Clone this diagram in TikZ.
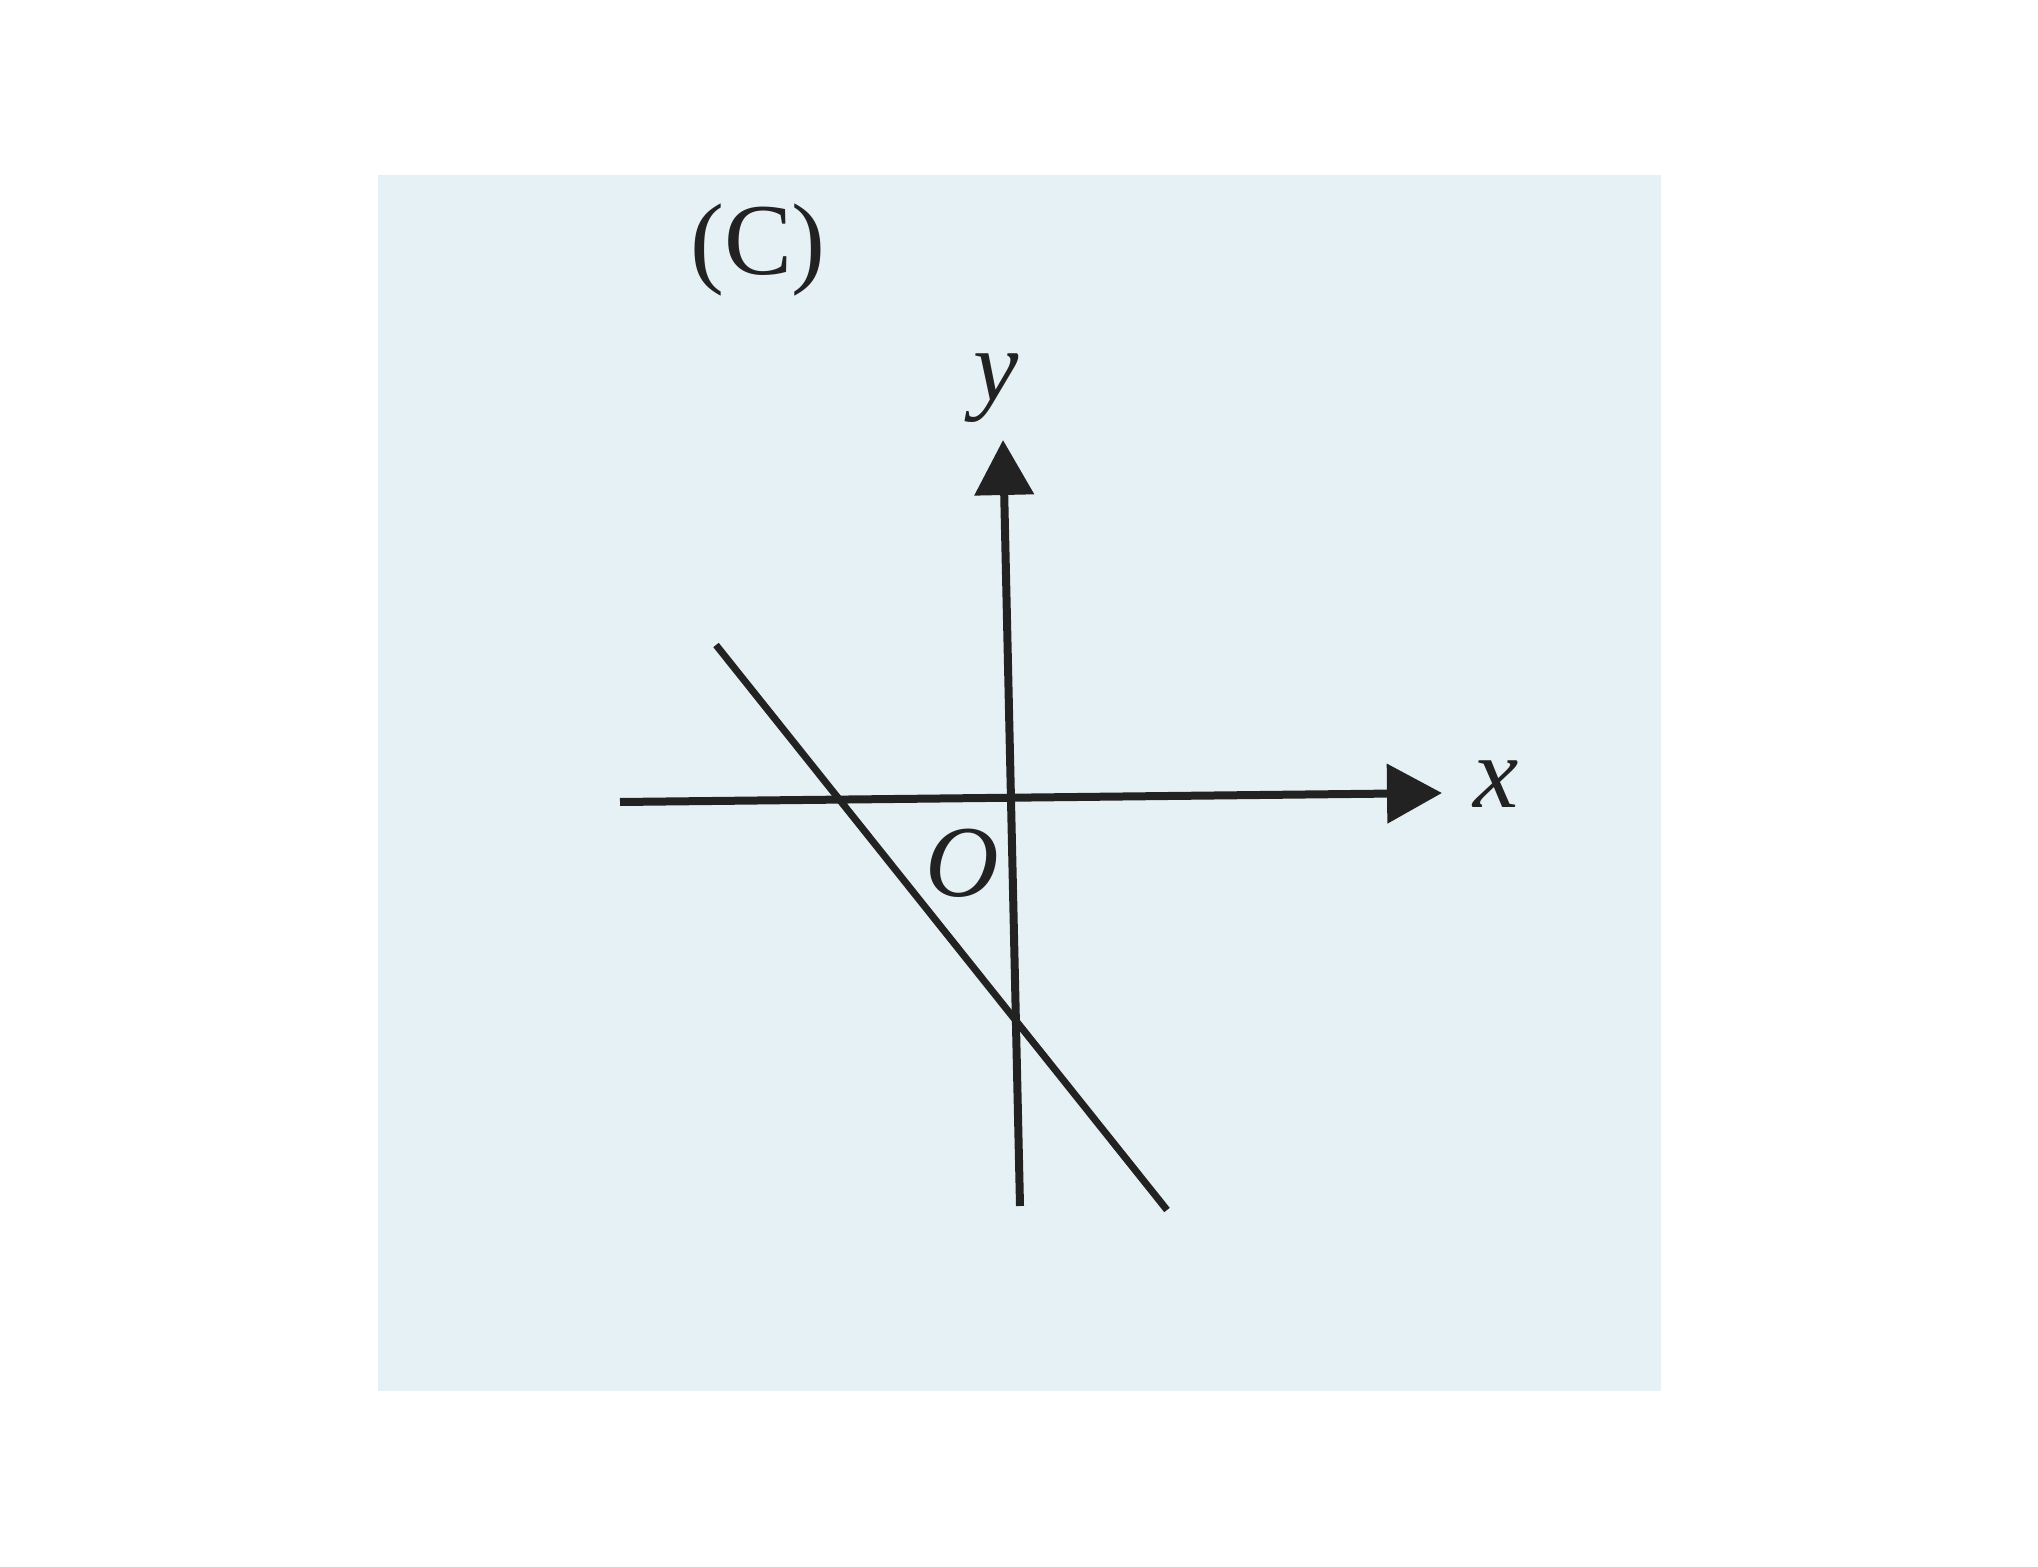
\documentclass[tikz,border=0pt]{standalone}
\usepackage{fontspec}
\setmainfont{Liberation Serif}
\usetikzlibrary{arrows.meta}
\definecolor{panel}{HTML}{E5F1F4}
\definecolor{ink}{HTML}{222222}
\tikzset{
  axis/.style={draw=ink, line width=0.16cm, -{Triangle[length=1.1cm,width=1.16cm]}},
  plain/.style={draw=ink, line width=0.14cm},
  lbl/.style={text=ink, inner sep=0pt, font=\fontsize{58}{60}\selectfont}
}
\begin{document}
\begin{tikzpicture}[x=0.02cm, y=-0.02cm]
\useasboundingbox (0,0) rectangle (2038,1567);
\fill[white] (0,0) rectangle (2038,1567);
\fill[panel] (378,175) rectangle (1661,1391);
\coordinate (xl) at (620,802);
\coordinate (xr) at (1442,793);
\coordinate (yb) at (1020,1206);
\coordinate (yt) at (1003,440);
\coordinate (la) at (716,645);
\coordinate (lb) at (1167,1210);
\draw[axis] (xl) -- (xr);
\draw[axis] (yb) -- (yt);
\draw[plain] (la) -- (lb);
\node[lbl] (ylab) at (996,388) {\itshape y};
\node[lbl] (xlab) at (1496,784) {\itshape x};
\node[lbl] (olab) at (962,863) {\itshape O};
\node[lbl] (clab) at (758,250) {(C)};
\end{tikzpicture}
\end{document}
